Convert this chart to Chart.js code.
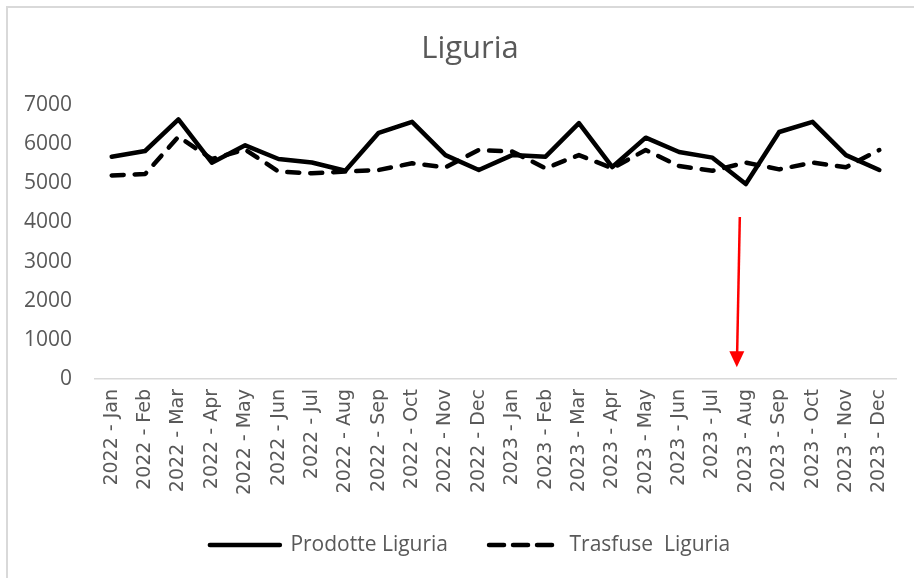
<!DOCTYPE html>
<html>
<head>
<meta charset="utf-8">
<script src="https://cdn.jsdelivr.net/npm/chart.js@4.4.1/dist/chart.umd.min.js"></script>
<style>
  html, body { margin: 0; padding: 0; background: #ffffff; overflow: hidden; }
  #wrap { position: relative; width: 914px; height: 578px; overflow: hidden; }
  #frame { position: absolute; left: 6px; top: 6px; width: 940px; height: 600px;
           border-left: 2px solid #d9d9d9; border-top: 2px solid #d9d9d9; box-sizing: border-box; }
  canvas { position: absolute; left: 0; top: 0; }
</style>
</head>
<body>
<div id="wrap">
  <div id="frame"></div>
  <canvas id="c" width="932" height="578"></canvas>
</div>
<script>
const TITLE = 'Liguria';
const categories = [
  '2022 - Jan','2022 - Feb','2022 - Mar','2022 - Apr','2022 - May','2022 - Jun',
  '2022 - Jul','2022 - Aug','2022 - Sep','2022 - Oct','2022 - Nov','2022 - Dec',
  '2023 - Jan','2023 - Feb','2023 - Mar','2023 - Apr','2023 - May','2023 - Jun',
  '2023 - Jul','2023 - Aug','2023 - Sep','2023 - Oct','2023 - Nov','2023 - Dec'
];
const prodotteLiguria = [5680, 5825, 6630, 5525, 5970, 5620, 5530, 5320, 6290, 6570, 5720, 5340,
                         5720, 5680, 6535, 5415, 6165, 5800, 5655, 4980, 6310, 6570, 5720, 5340];
const trasfuseLiguria = [5200, 5235, 6190, 5620, 5860, 5300, 5255, 5300, 5340, 5510, 5410, 5850,
                         5810, 5385, 5720, 5385, 5850, 5440, 5320, 5530, 5355, 5530, 5410, 5850];
const seriesNames = ['Prodotte Liguria', 'Trasfuse  Liguria'];
const yTicks = [0, 1000, 2000, 3000, 4000, 5000, 6000, 7000];
// red arrow annotation: category index and value range it spans
const arrowCategory = 19;
const arrowFromValue = 4140;
const arrowToValue = 300;

const TEXT = '#595959';
const FONT = "'Open Sans', 'Liberation Sans', sans-serif";
const LINE_W = 4.5;
const PLOT_DASH = [12, 11];
const LEGEND_DASH = [15, 9];

const arrowPlugin = {
  id: 'arrow',
  afterDatasetsDraw(chart) {
    const x = chart.scales.x, y = chart.scales.y, ctx = chart.ctx;
    const cx = x.getPixelForValue(arrowCategory);
    const x0 = cx - 6, x1 = cx - 9;
    const y0 = y.getPixelForValue(arrowFromValue);
    const y1 = y.getPixelForValue(arrowToValue);
    const head = 16;
    ctx.save();
    ctx.strokeStyle = '#ff0000';
    ctx.fillStyle = '#ff0000';
    ctx.lineWidth = 2.5;
    ctx.beginPath();
    ctx.moveTo(x0, y0);
    ctx.lineTo(x1 + (x0 - x1) * head / (y1 - y0), y1 - head + 2);
    ctx.stroke();
    ctx.beginPath();
    ctx.moveTo(x1, y1);
    ctx.lineTo(x1 - 7.5, y1 - head);
    ctx.lineTo(x1 + 7.5, y1 - head);
    ctx.closePath();
    ctx.fill();
    ctx.restore();
  }
};

new Chart(document.getElementById('c'), {
  type: 'line',
  data: {
    labels: categories,
    datasets: [
      {
        label: seriesNames[0],
        data: prodotteLiguria,
        borderColor: '#000000',
        backgroundColor: '#000000',
        borderWidth: LINE_W,
        borderJoinStyle: 'round',
        borderCapStyle: 'round',
        pointRadius: 0,
        tension: 0,
        fill: false
      },
      {
        label: seriesNames[1],
        data: trasfuseLiguria,
        borderColor: '#000000',
        backgroundColor: '#000000',
        borderWidth: LINE_W,
        borderDash: PLOT_DASH,
        borderJoinStyle: 'round',
        borderCapStyle: 'round',
        pointRadius: 0,
        tension: 0,
        fill: false
      }
    ]
  },
  options: {
    responsive: false,
    animation: false,
    devicePixelRatio: 1,
    layout: { padding: { left: 8, right: 0, top: 0, bottom: 12.5 } },
    plugins: {
      title: {
        display: true,
        text: TITLE,
        color: TEXT,
        font: { family: FONT, size: 31, weight: 'normal', lineHeight: 1.2 },
        padding: { top: 31, bottom: 36.8 }
      },
      legend: {
        display: true,
        position: 'bottom',
        labels: {
          color: TEXT,
          font: { family: FONT, size: 21 },
          usePointStyle: true,
          pointStyle: 'line',
          pointStyleWidth: 70,
          padding: 41,
          generateLabels(chart) {
            return chart.data.datasets.map((ds, i) => ({
              text: ds.label,
              fillStyle: ds.borderColor,
              strokeStyle: ds.borderColor,
              lineWidth: ds.borderWidth,
              lineDash: ds.borderDash ? LEGEND_DASH : [],
              lineCap: 'round',
              lineJoin: 'round',
              pointStyle: 'line',
              fontColor: TEXT,
              hidden: false,
              datasetIndex: i
            }));
          }
        }
      },
      tooltip: { enabled: false }
    },
    scales: {
      x: {
        offset: true,
        grid: { display: false, drawTicks: false },
        border: { display: true, color: '#d9d9d9', width: 1.5 },
        ticks: {
          color: TEXT,
          font: { family: "'DejaVu Sans', sans-serif", size: 19 },
          minRotation: 90,
          maxRotation: 90,
          autoSkip: false,
          padding: 10
        },
        afterFit(scale) { scale.height = 114.5; }
      },
      y: {
        position: 'left',
        min: 0,
        max: 7000,
        grid: { display: false, drawTicks: false },
        border: { display: false },
        afterBuildTicks(scale) { scale.ticks = yTicks.map(v => ({ value: v })); },
        ticks: {
          color: TEXT,
          font: { family: FONT, size: 21 },
          padding: 23,
          callback: (v) => String(v)
        },
        afterFit(scale) { scale.width = 87; }
      },
      yRightSpace: {
        position: 'right',
        display: true,
        grid: { display: false, drawTicks: false },
        border: { display: false },
        ticks: { display: false },
        afterFit(scale) { scale.width = 36; }
      }
    }
  },
  plugins: [arrowPlugin]
});
</script>
</body>
</html>
